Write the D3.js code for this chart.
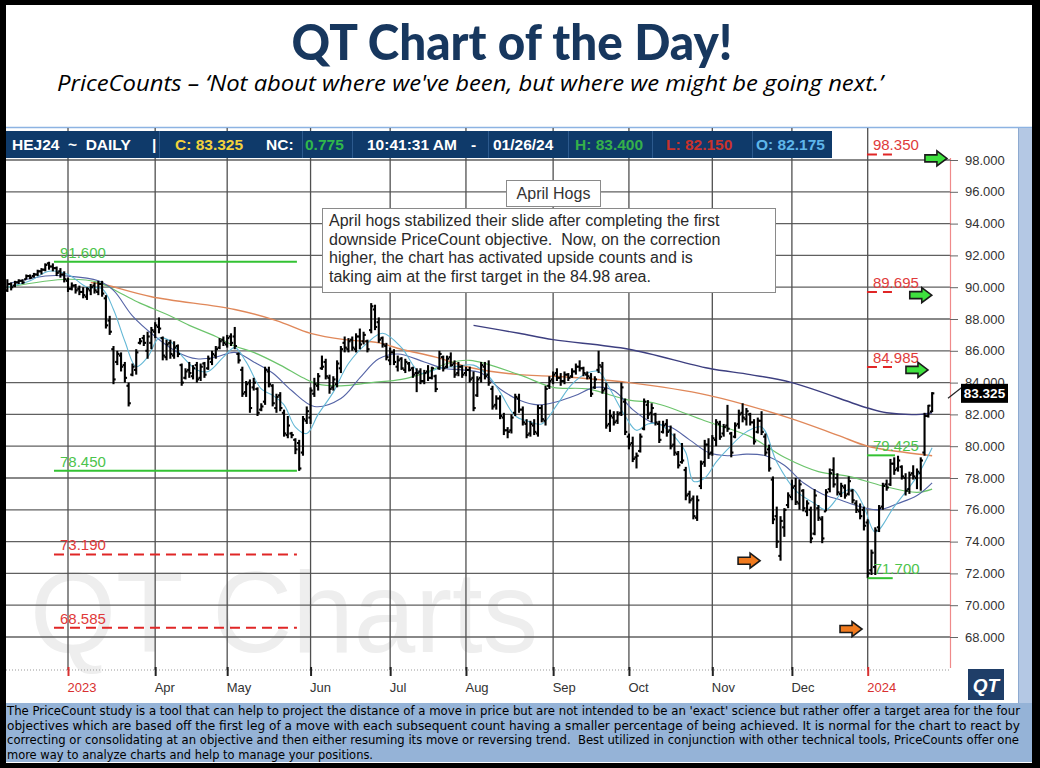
<!DOCTYPE html>
<html>
<head>
<meta charset="utf-8">
<script src="https://cdn.jsdelivr.net/npm/d3@7"></script>
<style>
html, body { margin: 0; padding: 0; background: #000; }
svg { display: block; }
text { font-family: "Liberation Sans", Arial, sans-serif; }
</style>
</head>
<body>
<svg id="chart" width="1040" height="768"></svg>
<script>
// HEJ24 daily bars, first bar = 7 Feb 2023 (index 0), last bar = 26 Jan 2024 (index 244)
const highs = [
  90.5,90.3,90.4,90.5,90.5,90.8,90.8,90.9,91.1,91.2,
  91.5,91.6,91.5,91.3,91.2,91.0,90.6,90.3,90.2,90.1,
  90.0,90.0,90.2,90.3,90.4,90.4,89.5,88.2,86.3,86.0,
  85.9,85.3,84.0,85.2,86.1,86.8,87.0,87.2,87.5,87.8,
  88.1,86.9,86.7,86.7,86.6,86.4,85.2,84.9,85.3,85.1,
  85.3,85.2,85.3,85.7,86.0,86.3,86.8,86.9,87.0,87.1,
  87.5,85.9,85.0,84.1,84.2,84.3,83.7,82.7,85.0,85.0,
  83.9,83.3,83.4,82.3,81.9,80.9,80.5,80.4,81.9,82.5,
  83.7,84.3,84.6,85.7,85.5,84.5,84.4,85.4,86.3,86.9,
  86.8,86.9,87.1,87.4,87.2,86.7,89.0,88.9,88.1,86.9,
  86.5,86.2,86.1,85.7,85.6,85.5,85.3,85.0,84.9,84.9,
  84.8,85.1,85.0,84.5,86.0,85.7,85.7,85.9,85.4,85.3,
  85.1,85.0,85.0,84.7,84.4,85.3,85.3,85.4,83.8,83.2,
  83.2,82.1,81.2,82.0,83.3,83.3,82.5,81.7,81.6,81.7,
  82.6,82.6,83.8,84.4,84.7,84.9,84.6,84.7,84.6,84.9,
  85.2,85.4,85.0,84.7,84.6,84.4,86.0,85.3,84.0,82.3,
  82.2,82.2,84.0,83.0,80.8,80.6,79.6,80.8,83.0,82.9,
  82.7,82.1,81.6,81.6,81.7,81.3,80.8,79.7,80.2,78.7,
  77.2,76.9,76.9,79.1,80.4,80.5,80.7,81.7,81.6,81.4,
  82.6,80.9,81.5,82.3,82.7,82.4,82.1,81.7,81.8,82.2,
  80.8,80.1,78.1,76.2,75.6,76.1,77.1,77.9,78.0,77.9,
  77.3,76.6,76.2,77.3,76.3,75.6,77.3,78.6,79.3,78.3,
  77.7,77.6,78.1,77.3,76.6,76.4,76.2,75.4,73.5,74.9,
  76.3,77.7,77.9,79.2,79.3,79.4,78.8,78.3,78.4,78.8,
  78.6,79.3,82.1,82.6,83.4
];
const lows = [
  89.7,89.8,90.0,90.2,90.2,90.5,90.5,90.6,90.7,90.8,
  91.0,91.1,91.0,90.7,90.6,90.3,89.7,89.8,89.6,89.5,
  89.3,89.2,89.5,89.6,89.5,89.4,87.4,87.0,83.9,85.1,
  84.7,84.0,82.5,84.4,84.5,86.4,86.3,85.5,86.1,86.8,
  87.1,85.4,85.4,85.5,85.5,85.6,83.8,84.2,84.3,84.2,
  84.0,84.1,84.3,84.8,85.1,85.5,86.1,86.3,86.2,86.3,
  86.1,85.2,83.1,83.1,82.1,83.5,81.9,82.2,82.6,83.7,
  82.5,82.1,82.2,80.6,80.5,80.5,79.5,78.45,79.4,81.4,
  81.4,83.1,83.5,84.8,84.2,83.3,83.5,83.7,84.6,85.9,
  85.9,86.0,85.9,86.1,86.4,85.9,87.1,87.3,86.5,86.2,
  85.4,85.1,85.1,84.7,84.8,84.6,84.7,84.3,83.4,83.9,
  83.9,84.1,84.2,83.4,84.8,84.7,84.9,85.0,84.3,84.4,
  84.3,84.4,84.0,82.2,83.1,84.0,84.2,83.8,82.3,82.3,
  81.7,80.7,80.5,80.8,81.9,82.1,81.3,80.5,80.6,80.7,
  80.6,81.5,81.3,83.6,83.9,84.1,83.8,83.9,84.1,84.3,
  84.5,84.7,84.4,84.2,83.1,83.6,84.6,83.3,81.1,80.9,
  81.3,81.4,81.9,80.7,79.8,79.0,78.6,79.6,81.0,81.7,
  81.5,81.3,80.2,80.8,80.6,79.8,79.4,78.6,78.9,76.6,
  76.4,75.4,75.3,77.3,78.7,79.2,79.4,80.0,80.4,80.6,
  80.9,79.3,80.5,81.1,81.5,81.3,81.3,80.1,80.8,80.7,
  79.4,78.4,75.1,73.6,72.8,74.3,76.1,76.6,76.3,76.0,
  75.9,75.6,73.9,74.4,75.3,73.9,75.9,77.1,77.4,76.9,
  76.8,76.7,76.9,76.4,75.8,75.4,74.7,71.7,71.9,71.9,
  74.6,76.0,77.2,77.5,78.2,78.4,77.9,76.9,77.0,77.9,
  77.3,77.2,79.4,81.8,82.15
];
const opens = [
  89.8,90.2,90.1,90.3,90.4,90.5,90.7,90.7,90.8,91.0,
  91.1,91.5,91.3,91.2,91.0,90.8,90.4,89.9,90.1,89.9,
  89.7,89.4,89.8,90.1,89.7,90.2,89.3,87.9,86.1,85.3,
  85.7,85.1,83.8,84.5,84.8,86.5,86.8,86.0,86.5,87.2,
  87.5,86.8,85.6,86.5,85.7,86.3,85.1,84.3,84.8,84.4,
  85.1,84.3,85.2,84.9,85.3,85.7,86.2,86.7,86.4,86.9,
  86.9,85.8,84.8,83.4,84.0,83.7,83.6,82.3,82.8,84.7,
  83.8,82.4,83.2,82.1,80.7,80.8,80.4,80.2,79.6,81.6,
  81.8,83.3,83.8,84.9,85.3,84.3,83.7,83.9,84.9,86.5,
  86.1,86.7,86.1,86.9,86.6,86.6,87.3,88.6,87.8,86.8,
  86.3,85.4,85.9,85.0,85.5,84.8,85.2,84.9,84.6,84.7,
  84.1,84.7,84.3,84.4,84.9,85.6,85.0,85.6,85.2,84.6,
  85.0,84.6,84.8,84.3,83.2,84.3,85.0,84.5,83.6,82.6,
  83.0,81.8,81.0,81.0,82.1,83.0,82.3,81.4,80.8,81.3,
  80.8,82.4,81.6,83.8,84.2,84.6,84.3,84.1,84.5,84.4,
  84.7,85.0,84.9,84.5,84.3,83.7,84.8,85.0,83.6,81.4,
  81.8,81.6,82.1,82.8,80.6,80.2,79.3,79.7,81.1,82.6,
  82.1,82.0,81.4,80.9,81.4,81.0,80.1,79.5,79.0,78.5,
  77.0,76.7,75.5,77.5,79.0,80.1,79.6,80.4,81.4,80.8,
  81.3,80.8,80.6,81.4,82.1,81.7,82.0,81.5,80.9,81.6,
  80.6,79.8,77.9,75.6,73.1,74.9,76.3,76.8,77.5,76.4,
  77.2,75.9,76.0,74.5,76.1,75.4,75.9,77.3,78.5,78.0,
  77.0,77.4,77.0,77.2,76.4,75.9,76.0,75.2,72.2,72.4,
  74.9,76.2,77.6,77.6,78.9,78.6,78.7,78.0,77.3,78.3,
  78.0,78.3,79.6,81.9,82.175
];
const closes = [
  90.2,90.0,90.3,90.4,90.3,90.7,90.6,90.8,91.0,91.1,
  91.4,91.3,91.2,90.9,90.8,90.5,89.9,90.1,89.8,89.7,
  89.5,89.9,90.0,89.8,90.2,89.6,87.6,87.2,84.2,85.8,
  85.0,84.3,82.7,85.0,85.9,86.6,86.5,86.9,87.3,87.6,
  87.4,85.7,86.4,85.8,86.2,85.8,84.0,84.7,84.6,84.9,
  84.2,85.0,84.5,85.5,85.8,86.1,86.6,86.5,86.8,86.5,
  86.3,85.4,83.3,83.9,82.4,84.0,82.1,82.5,84.8,83.9,
  82.7,83.1,82.4,80.8,81.3,80.7,79.8,78.6,81.7,82.2,
  83.5,83.9,84.4,85.0,84.4,83.6,84.2,85.2,86.1,86.2,
  86.6,86.2,86.9,86.4,87.0,86.1,88.8,87.5,86.7,86.4,
  85.6,85.9,85.3,85.4,84.9,85.3,84.8,84.5,84.6,84.1,
  84.6,84.3,84.9,83.6,85.8,84.9,85.5,85.1,84.5,85.0,
  84.5,84.8,84.2,82.4,84.2,85.1,84.4,84.0,82.5,83.0,
  81.9,81.0,80.9,81.8,83.1,82.3,81.5,80.7,81.4,80.9,
  82.4,81.7,83.6,84.1,84.5,84.3,84.1,84.5,84.3,84.7,
  85.0,84.9,84.6,84.4,83.3,84.2,85.1,83.5,81.3,81.9,
  81.5,82.0,83.7,80.9,80.1,79.2,79.4,80.6,82.8,82.0,
  82.4,81.5,80.4,81.3,80.9,80.0,79.6,78.8,79.1,76.9,
  76.6,75.6,76.6,78.9,80.1,79.5,80.5,81.5,80.6,81.2,
  81.1,79.6,81.3,82.0,81.8,82.2,81.5,80.3,81.6,80.9,
  79.6,78.6,75.4,74.0,75.3,76.0,76.9,77.4,76.5,77.6,
  76.1,76.4,74.2,76.9,75.5,74.2,77.1,78.3,77.6,77.1,
  77.5,76.9,77.8,76.6,76.0,75.6,75.0,72.0,73.3,74.7,
  76.1,77.5,77.4,78.9,78.5,79.1,78.1,77.2,78.2,78.1,
  78.4,79.1,81.9,82.55,83.325
];

// first session of each month (bar index) and its label
const monthIdx = [16, 39, 58, 80, 101, 121, 144, 164, 186, 207, 227];
const monthLabels = ["2023", "Apr", "May", "Jun", "Jul", "Aug", "Sep", "Oct", "Nov", "Dec", "2024"];
const priceTicks = [98, 96, 94, 92, 90, 88, 86, 84, 82, 80, 78, 76, 74, 72, 70, 68];

// moving averages: [bar index, price]
const maFast = [[0,90.0],[6,90.4],[11,91.0],[16,90.8],[21,90.0],[25,89.9],[28,88.6],[31,86.6],[34,85.0],[37,85.6],[40,86.8],[43,86.6],[46,85.7],[50,84.8],[53,84.7],[57,85.6],[60,86.2],[63,85.3],[67,83.6],[70,83.2],[73,82.6],[76,81.2],[79,80.8],[82,82.0],[86,83.4],[90,85.2],[95,86.5],[99,87.1],[104,86.2],[109,84.6],[114,84.9],[118,85.0],[123,85.1],[127,84.4],[130,83.4],[134,81.9],[137,81.6],[141,81.4],[145,82.6],[149,83.9],[153,84.6],[156,84.7],[159,83.6],[163,81.9],[166,81.0],[169,81.4],[172,81.4],[176,80.6],[179,79.6],[181,77.8],[184,78.0],[187,79.0],[190,79.8],[195,80.9],[199,81.2],[203,79.0],[208,77.2],[213,76.4],[216,76.0],[220,77.0],[223,77.3],[226,76.2],[229,74.6],[234,76.2],[240,78.1],[244,79.9]];
const maMid = [[0,90.2],[10,90.7],[16,90.7],[24,90.4],[28,89.8],[33,88.2],[39,86.9],[45,85.9],[50,85.5],[55,85.6],[60,85.9],[65,85.3],[70,84.6],[75,83.5],[81,82.5],[88,83.0],[93,84.3],[98,85.5],[103,85.8],[110,85.3],[115,84.9],[120,84.8],[125,84.6],[130,83.6],[135,82.9],[140,82.6],[145,82.8],[150,83.2],[155,83.7],[160,83.5],[165,82.3],[170,81.5],[175,81.2],[180,80.4],[185,79.6],[190,79.4],[195,79.5],[200,79.4],[205,78.8],[210,77.7],[215,77.0],[220,76.6],[225,76.2],[230,76.0],[235,76.4],[240,76.9],[244,77.7]];
const maGreen = [[0,90.0],[16,90.5],[24,90.3],[30,89.6],[35,89.0],[42,88.3],[48,87.6],[55,86.9],[60,86.3],[65,85.9],[72,85.1],[78,84.3],[82,83.9],[88,83.8],[96,84.0],[104,84.2],[110,84.6],[116,85.2],[122,85.4],[135,84.5],[144,83.7],[153,83.6],[164,82.9],[171,82.7],[184,81.6],[196,80.6],[205,79.3],[214,78.4],[222,78.1],[231,77.5],[240,77.1],[244,77.3]];
const maOrange = [[22,90.3],[25,90.2],[38,89.4],[60,88.6],[71,87.9],[80,87.1],[89,86.7],[98,86.5],[104,86.1],[113,85.6],[123,84.9],[135,84.5],[144,84.4],[164,84.0],[185,83.2],[206,81.8],[219,80.7],[227,80.0],[237,79.6],[244,79.4]];
const maSlow = [[123,87.6],[135,87.1],[144,86.7],[164,86.1],[185,84.9],[196,84.5],[207,84.0],[227,82.4],[232,82.1],[241,82.0],[244,82.1]];

// PriceCount objectives
const greenLevels = [91.6, 78.45, 79.425, 71.7];
const greenSpans = [[12.3, 76.4], [12.3, 76.4], [226.8, 234.2], [227, 233.6]];
const redLevels = [73.19, 68.585, 98.35, 89.695, 84.985];
const redSpans = [[12.3, 76.4], [12.3, 76.4], [226.8, 233.4], [226.8, 233.4], [226.8, 233.4]];
// arrow markers [bar index, price]
const greenArrows = [[245, 98.1], [241, 89.5], [240, 84.8]];
const orangeArrows = [[195.7, 72.8], [222.6, 68.5]];

const lastClose = 83.325;

const svg = d3.select("#chart");
const plot = { left: 6, right: 950, top: 128, bottom: 670 };

const x = d3.scaleLinear().domain([16, 227]).range([68, 867.7]);
const y = d3.scaleLinear().domain([68, 98]).range([637, 160]);

// page frame
svg.append("rect").attr("width", 1040).attr("height", 768).attr("fill", "#000");
svg.append("rect").attr("x", 6).attr("y", 5).attr("width", 1026).attr("height", 758).attr("fill", "#fff");

// title
svg.append("text")
  .attr("x", 512).attr("y", 60)
  .attr("text-anchor", "middle")
  .attr("textLength", 441).attr("lengthAdjust", "spacingAndGlyphs")
  .style("font-family", "Lato, 'Open Sans', sans-serif")
  .style("font-weight", "900").style("font-size", "50px")
  .attr("fill", "#17375e")
  .text("QT Chart of the Day!");
svg.append("text")
  .attr("x", 57).attr("y", 91)
  .attr("textLength", 826).attr("lengthAdjust", "spacingAndGlyphs")
  .style("font-family", "'Open Sans', sans-serif")
  .style("font-style", "italic").style("font-size", "21px")
  .attr("fill", "#000")
  .text("PriceCounts \u2013 \u2018Not about where we've been, but where we might be going next.\u2019");

// chart panel border + side strip
svg.append("line").attr("x1", 6).attr("x2", 1032).attr("y1", 127.5).attr("y2", 127.5)
  .attr("stroke", "#8db3e2").attr("stroke-width", 1.5);
svg.append("rect").attr("x", 1018).attr("y", 128).attr("width", 14).attr("height", 575).attr("fill", "#b4c8e4");
svg.append("line").attr("x1", 1018.5).attr("x2", 1018.5).attr("y1", 128).attr("y2", 703).attr("stroke", "#8eaad0");

// watermark
svg.append("text")
  .attr("x", 30).attr("y", 652)
  .attr("textLength", 508).attr("lengthAdjust", "spacingAndGlyphs")
  .style("font-size", "115px")
  .attr("fill", "#eeeeee")
  .text("QT Charts");

// grid
const grid = svg.append("g");
grid.selectAll("line.h").data(priceTicks).enter().append("line")
  .attr("x1", plot.left).attr("x2", plot.right)
  .attr("y1", d => y(d)).attr("y2", d => y(d))
  .attr("stroke", "#606060").attr("stroke-width", 1.3);
grid.selectAll("line.v").data(monthIdx).enter().append("line")
  .attr("x1", d => x(d)).attr("x2", d => x(d))
  .attr("y1", plot.top).attr("y2", plot.bottom)
  .attr("stroke", "#505050").attr("stroke-width", 1.3);

// right border (red) and dotted x-axis
svg.append("line").attr("x1", 950.5).attr("x2", 950.5).attr("y1", 158).attr("y2", 668)
  .attr("stroke", "#ef8a8a").attr("stroke-width", 1.2);
svg.append("line").attr("x1", plot.left).attr("x2", plot.right).attr("y1", 670).attr("y2", 670)
  .attr("stroke", "#999").attr("stroke-dasharray", "1,2");

// axes
const yAxis = svg.append("g").attr("transform", "translate(950,0)")
  .call(d3.axisRight(y).tickValues(priceTicks).tickFormat(d3.format(".3f")).tickSize(8).tickPadding(7));
yAxis.select(".domain").remove();
yAxis.selectAll("line").attr("stroke", "#666");
yAxis.selectAll("text").attr("fill", "#333").style("font-size", "13px")
  .style("font-family", "'Liberation Sans', Arial, sans-serif");

const xAxis = svg.append("g").attr("transform", "translate(0,670)")
  .call(d3.axisBottom(x).tickValues(monthIdx).tickFormat((d, i) => monthLabels[i]).tickSize(6).tickPadding(7));
xAxis.select(".domain").remove();
xAxis.selectAll("line").attr("stroke-width", 2)
  .attr("stroke", (d, i) => (i === 0 || i === monthIdx.length - 1) ? "#d83030" : "#222")
  .attr("y1", -3);
xAxis.selectAll("text")
  .attr("text-anchor", "start").attr("x", -1)
  .attr("fill", (d, i) => (i === 0 || i === monthIdx.length - 1) ? "#d83030" : "#333")
  .style("font-size", "13px")
  .style("font-family", "'Liberation Sans', Arial, sans-serif");

// moving averages
const maLine = d3.line().x(d => x(d[0])).y(d => y(d[1])).curve(d3.curveCatmullRom.alpha(0.5));
const maStyles = [
  [maOrange, "#e0885a", 1.4],
  [maSlow, "#3d3f80", 1.4],
  [maGreen, "#6cc46c", 1.2],
  [maMid, "#5564a6", 1.1],
  [maFast, "#64b8d6", 1.1]
];
maStyles.forEach(([data, color, w]) => {
  svg.append("path").datum(data)
    .attr("d", maLine)
    .attr("fill", "none")
    .attr("stroke", color).attr("stroke-width", w);
});

// OHLC bars
const bars = svg.append("g").attr("stroke", "#000").attr("stroke-width", 2.1);
const idx = d3.range(highs.length);
bars.selectAll("line.hl").data(idx).enter().append("line")
  .attr("x1", i => x(i)).attr("x2", i => x(i))
  .attr("y1", i => y(highs[i])).attr("y2", i => y(lows[i]));
bars.selectAll("line.o").data(idx).enter().append("line")
  .attr("x1", i => x(i) - 2.2).attr("x2", i => x(i))
  .attr("y1", i => y(opens[i])).attr("y2", i => y(opens[i]));
bars.selectAll("line.c").data(idx).enter().append("line")
  .attr("x1", i => x(i)).attr("x2", i => x(i) + 2.2)
  .attr("y1", i => y(closes[i])).attr("y2", i => y(closes[i]));

// PriceCount levels
const fmt3 = d3.format(".3f");
greenLevels.forEach((v, k) => {
  const [a, b] = greenSpans[k];
  svg.append("line")
    .attr("x1", x(a)).attr("x2", x(b)).attr("y1", y(v)).attr("y2", y(v))
    .attr("stroke", "#33c233").attr("stroke-width", 2);
  svg.append("text")
    .attr("x", x(a) + 6).attr("y", y(v) - 4)
    .attr("fill", "#4cc44c").style("font-size", "15px")
    .text(fmt3(v));
});
redLevels.forEach((v, k) => {
  const [a, b] = redSpans[k];
  svg.append("line")
    .attr("x1", x(a)).attr("x2", x(b)).attr("y1", y(v)).attr("y2", y(v))
    .attr("stroke", "#e02626").attr("stroke-width", 2)
    .attr("stroke-dasharray", "10,6");
  svg.append("text")
    .attr("x", x(a) + 6).attr("y", y(v) - 4)
    .attr("fill", "#e03a3a").style("font-size", "15px")
    .text(fmt3(v));
});

// arrows
const arrowPath = "M-11,-3.5 L1,-3.5 L1,-7.5 L11,0 L1,7.5 L1,3.5 L-11,3.5 Z";
svg.selectAll("path.ga").data(greenArrows).enter().append("path")
  .attr("d", arrowPath)
  .attr("transform", d => `translate(${x(d[0])},${y(d[1])})`)
  .attr("fill", "#3ee03e").attr("stroke", "#1a1a1a").attr("stroke-width", 1.6);
svg.selectAll("path.oa").data(orangeArrows).enter().append("path")
  .attr("d", arrowPath)
  .attr("transform", d => `translate(${x(d[0])},${y(d[1])})`)
  .attr("fill", "#f07a1e").attr("stroke", "#1a1a1a").attr("stroke-width", 1.6);

// annotation boxes
svg.append("rect").attr("x", 506.5).attr("y", 180.5).attr("width", 94).attr("height", 26)
  .attr("fill", "#fff").attr("stroke", "#8a8a8a");
svg.append("text").attr("x", 553.5).attr("y", 199).attr("text-anchor", "middle")
  .attr("fill", "#333").style("font-size", "16px").text("April Hogs");

svg.append("rect").attr("x", 322.5).attr("y", 208.5).attr("width", 453).attr("height", 84)
  .attr("fill", "#fff").attr("stroke", "#8a8a8a");
const noteLines = [
  "April hogs stabilized their slide after completing the first",
  "downside PriceCount objective.  Now, on the correction",
  "higher, the chart has activated upside counts and is",
  "taking aim at the first target in the 84.98 area."
];
svg.append("text").attr("fill", "#2a2a2a").style("font-size", "16px").style("white-space", "pre")
  .selectAll("tspan").data(noteLines).enter().append("tspan")
  .attr("x", 329).attr("y", (d, i) => 226 + i * 18.6)
  .text(d => d);

// header bar
svg.append("rect").attr("x", 6).attr("y", 131).attr("width", 826).attr("height", 27).attr("fill", "#0f3a6a");
[159, 302, 352, 488, 568, 652, 752].forEach(sx => {
  svg.append("line").attr("x1", sx + 0.5).attr("x2", sx + 0.5).attr("y1", 131).attr("y2", 158)
    .attr("stroke", "#2c5a8e");
});
const headerItems = [
  ["HEJ24  ~  DAILY", 12, "#fff"],
  ["|", 152, "#fff"],
  ["C: 83.325", 175, "#f2d23c"],
  ["NC:", 266, "#fff"],
  ["0.775", 305, "#2fb84a"],
  ["10:41:31 AM", 367, "#fff"],
  ["-", 471, "#fff"],
  ["01/26/24", 493, "#fff"],
  ["H: 83.400", 575, "#35b04a"],
  ["L: 82.150", 666, "#c8322c"],
  ["O: 82.175", 756, "#5fb6ea"]
];
svg.selectAll("text.hdr").data(headerItems).enter().append("text")
  .attr("x", d => d[1]).attr("y", 150)
  .attr("fill", d => d[2])
  .style("font-size", "15.5px").style("font-weight", "bold").style("white-space", "pre")
  .text(d => d[0]);

// last price tag
svg.append("line").attr("x1", 948).attr("x2", 962).attr("y1", y(lastClose) + 5).attr("y2", y(lastClose) - 6)
  .attr("stroke", "#222").attr("stroke-width", 1.2);
svg.append("rect").attr("x", 961).attr("y", y(lastClose) - 9.5).attr("width", 47).attr("height", 19).attr("fill", "#000");
svg.append("text").attr("x", 984.5).attr("y", y(lastClose) + 5).attr("text-anchor", "middle")
  .attr("fill", "#fff").style("font-size", "13.5px").style("font-weight", "bold")
  .text(fmt3(lastClose));

// QT logo
svg.append("rect").attr("x", 968).attr("y", 669).attr("width", 36).attr("height", 31).attr("fill", "#1f3e68");
svg.append("text").attr("x", 986).attr("y", 692).attr("text-anchor", "middle")
  .attr("fill", "#fff").style("font-size", "19px").style("font-weight", "bold").style("font-style", "italic")
  .text("QT");

// footer
svg.append("rect").attr("x", 6).attr("y", 703).attr("width", 1026).attr("height", 59).attr("fill", "#95b3d7");
const footerLines = [
  "The PriceCount study is a tool that can help to project the distance of a move in price but are not intended to be an 'exact' science but rather offer a target area for the four",
  "objectives which are based off the first leg of a move with each subsequent count having a smaller percentage of being achieved. It is normal for the chart to react by",
  "correcting or consolidating at an objective and then either resuming its move or reversing trend.  Best utilized in conjunction with other technical tools, PriceCounts offer one",
  "more way to analyze charts and help to manage your positions."
];
const footerWidths = [1013, 1013, 1012, 366];
svg.selectAll("text.ft").data(footerLines).enter().append("text")
  .attr("x", 7).attr("y", (d, i) => 715 + i * 14.6)
  .attr("textLength", (d, i) => footerWidths[i]).attr("lengthAdjust", "spacingAndGlyphs")
  .style("font-family", "'Liberation Sans Narrow', 'DejaVu Sans Condensed', 'Liberation Sans', sans-serif")
  .style("font-size", "13px").style("white-space", "pre")
  .attr("fill", "#000")
  .text(d => d);
</script>
</body>
</html>
